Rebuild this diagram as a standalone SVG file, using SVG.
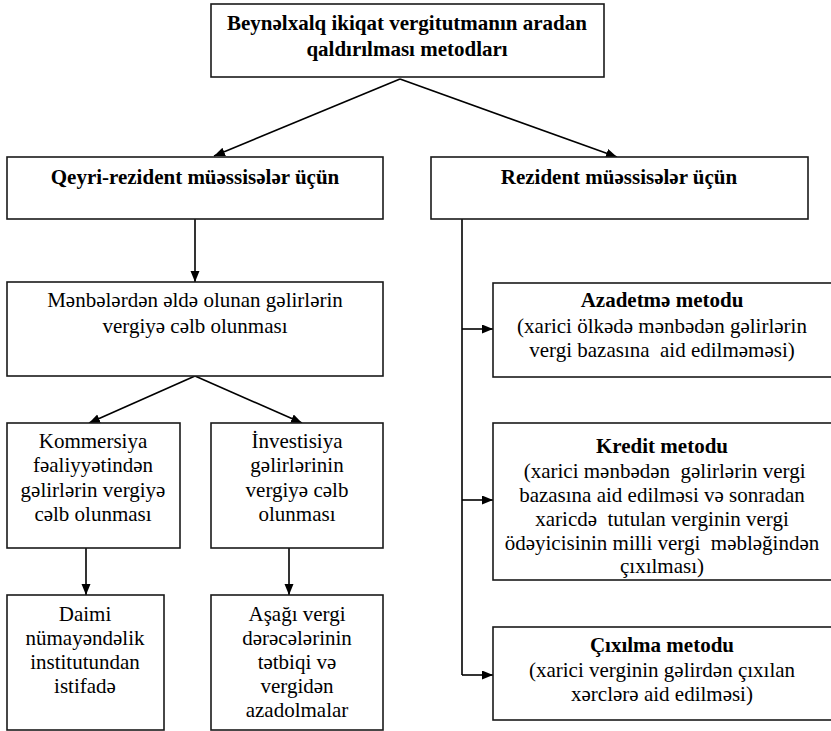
<svg xmlns="http://www.w3.org/2000/svg" width="831" height="731" viewBox="0 0 831 731">
  <style>
    .box { fill: #ffffff; stroke: #1a1a1a; stroke-width: 1.6; }
    .t { font-family: 'Liberation Serif', 'Times New Roman', serif; font-size: 21px; fill: #000; text-anchor: middle; }
    .b { font-weight: bold; }
    .link { fill: none; stroke: #000; stroke-width: 1.6; }
  </style>
  <defs>
    <marker id="arrow" markerUnits="userSpaceOnUse" markerWidth="12" markerHeight="10" refX="11" refY="4.5" orient="auto">
      <path d="M0,0 L11,4.5 L0,9 z" fill="#000"/>
    </marker>
  </defs>

  <rect width="831" height="731" fill="#ffffff"/>

  <g id="connectors">
    <path class="link" d="M400,79 L214,156" marker-end="url(#arrow)"/>
    <path class="link" d="M400,79 L617,157" marker-end="url(#arrow)"/>
    <path class="link" d="M195,219 L195,282" marker-end="url(#arrow)"/>
    <path class="link" d="M195,376 L89,423" marker-end="url(#arrow)"/>
    <path class="link" d="M195,376 L302,423" marker-end="url(#arrow)"/>
    <path class="link" d="M86,548 L86,595" marker-end="url(#arrow)"/>
    <path class="link" d="M289,548 L289,595" marker-end="url(#arrow)"/>
    <path class="link" d="M462,219 L462,675"/>
    <path class="link" d="M462,329 L493,329" marker-end="url(#arrow)"/>
    <path class="link" d="M462,500 L493,500" marker-end="url(#arrow)"/>
    <path class="link" d="M462,675 L493,675" marker-end="url(#arrow)"/>
  </g>

  <g id="root">
    <rect class="box" x="211" y="4" width="393" height="73"/>
    <text class="t b" x="407" y="30">Beynəlxalq ikiqat vergitutmanın aradan</text>
    <text class="t b" x="407" y="56">qaldırılması metodları</text>
  </g>

  <g id="non-resident">
    <rect class="box" x="7" y="157" width="376" height="62"/>
    <text class="t b" x="195" y="184">Qeyri-rezident müəssisələr üçün</text>
  </g>

  <g id="resident">
    <rect class="box" x="431" y="157" width="377" height="62"/>
    <text class="t b" x="619" y="184">Rezident müəssisələr üçün</text>
  </g>

  <g id="source-taxation">
    <rect class="box" x="7" y="282" width="376" height="94"/>
    <text class="t" x="195" y="307">Mənbələrdən əldə olunan gəlirlərin</text>
    <text class="t" x="195" y="333">vergiyə cəlb olunması</text>
  </g>

  <g id="commercial">
    <rect class="box" x="7" y="423" width="173" height="125"/>
    <text class="t" x="93" y="448">Kommersiya</text>
    <text class="t" x="93" y="472">fəaliyyətindən</text>
    <text class="t" x="93" y="497">gəlirlərin vergiyə</text>
    <text class="t" x="93" y="521">cəlb olunması</text>
  </g>

  <g id="investment">
    <rect class="box" x="211" y="423" width="172" height="125"/>
    <text class="t" x="297" y="448">İnvestisiya</text>
    <text class="t" x="297" y="472">gəlirlərinin</text>
    <text class="t" x="297" y="497">vergiyə cəlb</text>
    <text class="t" x="297" y="521">olunması</text>
  </g>

  <g id="permanent-establishment">
    <rect class="box" x="7" y="595" width="157" height="135"/>
    <text class="t" x="85" y="621">Daimi</text>
    <text class="t" x="85" y="645">nümayəndəlik</text>
    <text class="t" x="85" y="669">institutundan</text>
    <text class="t" x="85" y="693">istifadə</text>
  </g>

  <g id="reduced-rates">
    <rect class="box" x="211" y="595" width="172" height="135"/>
    <text class="t" x="297" y="621">Aşağı vergi</text>
    <text class="t" x="297" y="645">dərəcələrinin</text>
    <text class="t" x="297" y="669">tətbiqi və</text>
    <text class="t" x="297" y="693">vergidən</text>
    <text class="t" x="297" y="717">azadolmalar</text>
  </g>

  <g id="exemption-method">
    <rect class="box" x="493" y="283" width="340" height="94"/>
    <text class="t b" x="662" y="307">Azadetmə metodu</text>
    <text class="t" x="662" y="333">(xarici ölkədə mənbədən gəlirlərin</text>
    <text class="t" x="662" y="357" xml:space="preserve">vergi bazasına  aid edilməməsi)</text>
  </g>

  <g id="credit-method">
    <rect class="box" x="493" y="423" width="340" height="157"/>
    <text class="t b" x="662" y="453">Kredit metodu</text>
    <text class="t" x="662" y="478" xml:space="preserve"> (xarici mənbədən  gəlirlərin vergi</text>
    <text class="t" x="662" y="502">bazasına aid edilməsi və sonradan</text>
    <text class="t" x="662" y="526" xml:space="preserve">xaricdə  tutulan verginin vergi</text>
    <text class="t" x="662" y="550" xml:space="preserve">ödəyicisinin milli vergi  məbləğindən</text>
    <text class="t" x="662" y="573">çıxılması)</text>
  </g>

  <g id="deduction-method">
    <rect class="box" x="493" y="627" width="340" height="93"/>
    <text class="t b" x="662" y="652">Çıxılma metodu</text>
    <text class="t" x="662" y="677">(xarici verginin gəlirdən çıxılan</text>
    <text class="t" x="662" y="701">xərclərə aid edilməsi)</text>
  </g>
</svg>
